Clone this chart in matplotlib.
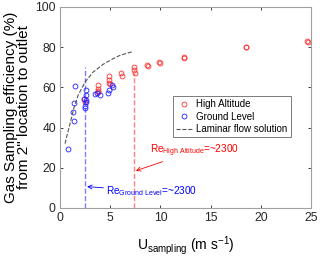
import matplotlib
matplotlib.use('Agg')
import matplotlib.pyplot as plt
import numpy as np

plt.rcParams['font.family'] = ['Liberation Sans', 'DejaVu Sans']
plt.rcParams['mathtext.default'] = 'regular'

# High altitude measurements (red)
ha_u = [2.4, 2.45, 3.75, 3.75, 3.75, 3.8, 4.9, 4.9, 4.9, 4.95,
        6.1, 6.15, 7.4, 7.4, 7.45, 8.7, 8.75, 9.9, 9.95, 12.3, 12.35,
        18.5, 18.55, 24.6, 24.65]
ha_eff = [54.4, 52.9, 61.0, 59.4, 58.2, 57.5, 65.5, 63.5, 62.2, 61.5,
          67.0, 65.5, 70.0, 68.5, 67.2, 71.0, 70.6, 72.6, 72.2, 75.1, 74.7,
          80.3, 79.9, 83.2, 82.8]

# Ground level measurements (blue)
gl_u = [0.75, 1.33, 1.4, 1.4, 1.5, 2.6, 2.6, 2.4, 2.55, 2.5, 2.45, 2.6,
        3.5, 3.7, 4.0, 4.8, 4.9, 5.15, 5.25]
gl_eff = [29.3, 47.5, 43.5, 52.2, 60.7, 58.9, 56.0, 54.4, 52.7, 50.6, 49.5, 53.6,
          56.6, 57.2, 56.4, 57.2, 58.6, 61.0, 60.2]

# Laminar flow solution
lam_u = [0.5, 0.67, 1.0, 1.4, 1.8, 2.5, 3.3, 4.3, 5.3, 6.0, 7.25]
lam_eff = [32.0, 35.5, 42.0, 50.0, 56.0, 62.7, 67.6, 71.5, 74.3, 76.0, 77.8]

re_ground = 2.5
re_high = 7.4

fig = plt.figure(figsize=(3.2, 2.58), dpi=100)
ax = fig.add_axes([0.1875, 0.194, 0.785, 0.779])

ax.plot([re_ground, re_ground], [0, 70], '--', color='#7f7fff', lw=1.0)
ax.plot([re_high, re_high], [0, 67], '--', color='#ff7f7f', lw=1.0)

ax.plot(ha_u, ha_eff, 'o', mfc='none', mec='#ff3030', ms=3.5, mew=0.6, label='High Altitude')
ax.plot(gl_u, gl_eff, 'o', mfc='none', mec='#2020ff', ms=3.5, mew=0.6, label='Ground Level')
ax.plot(lam_u, lam_eff, '--', color='#555555', lw=0.8, label='Laminar flow solution')

ax.annotate(r'Re$_{High\ Altitude}$=~2300', xy=(7.55, 18.5), xytext=(9.0, 28.5),
            color='red', fontsize=7.2, ha='left', va='center',
            arrowprops=dict(arrowstyle='->', color='red', lw=0.6, shrinkA=0, shrinkB=0))
ax.annotate(r'Re$_{Ground\ Level}$=~2300', xy=(2.7, 10.6), xytext=(4.6, 8.3),
            color='blue', fontsize=7.2, ha='left', va='center',
            arrowprops=dict(arrowstyle='->', color='blue', lw=0.6, shrinkA=0, shrinkB=0))

ax.set_xlim(0, 25)
ax.set_ylim(0, 100)
ax.set_xticks([0, 5, 10, 15, 20, 25])
ax.set_yticks([0, 20, 40, 60, 80, 100])
ax.tick_params(direction='in', length=2.5, width=0.6, colors='#262626', labelsize=8.7,
               top=True, right=True, pad=3)
for s in ax.spines.values():
    s.set_color('#a0a0a0')
    s.set_linewidth(0.8)

ax.set_xlabel(r'U$_{sampling}$ (m s$^{-1}$)', fontsize=10)
ax.xaxis.set_label_coords(0.5, -0.13)
ax.set_ylabel('Gas Sampling efficiency (%)\nfrom 2" location to outlet', fontsize=11,
              linespacing=0.92)
ax.yaxis.set_label_coords(-0.115, 0.5)

leg = ax.legend(loc='upper left', bbox_to_anchor=(0.45, 0.555), fontsize=7,
                frameon=True, fancybox=False, edgecolor='#404040', borderpad=0.3,
                handlelength=1.6, handletextpad=0.5, labelspacing=0.25, borderaxespad=0)
leg.get_frame().set_linewidth(0.6)

fig.savefig('out.png', dpi=100)
